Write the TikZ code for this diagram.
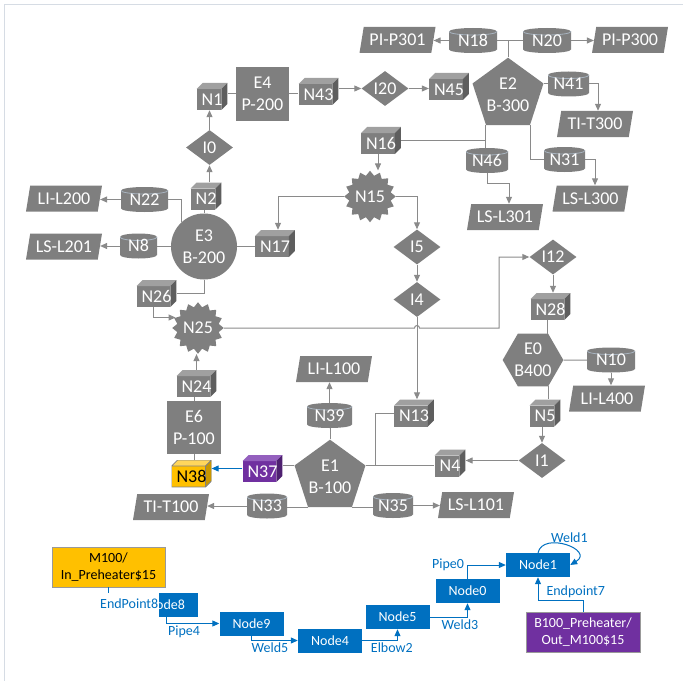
\documentclass[tikz,border=0pt]{standalone}
\usepackage{fontspec}
\setmainfont{Carlito}
\usetikzlibrary{shapes.geometric,arrows.meta,calc}
\definecolor{gfill}{HTML}{7F7F7F}
\definecolor{gtop}{HTML}{A0A0A0}
\definecolor{gside}{HTML}{5E5E5E}
\definecolor{gline}{HTML}{8A8A8A}
\definecolor{yfill}{HTML}{FFC000}
\definecolor{ytop}{HTML}{FFD65C}
\definecolor{yside}{HTML}{C99700}
\definecolor{pfill}{HTML}{7030A0}
\definecolor{ptop}{HTML}{9460BE}
\definecolor{pside}{HTML}{4E2070}
\definecolor{bblue}{HTML}{0070C0}
\definecolor{framec}{HTML}{D6DCE4}
\definecolor{rimc}{HTML}{A8B4C0}
\newcommand\gfont{\fontsize{18bp}{22bp}\selectfont}
\newcommand\bfnt{\fontsize{14bp}{17bp}\selectfont}
\newcommand\bx[1]{\raisebox{-3bp}{#1}\hspace{6bp}}
\tikzset{
 gtxt/.style={font=\gfont, text=white, text height=11.6bp, text depth=0bp},
 mkbox/.style n args={4}{rectangle, gtxt, minimum height=27bp, inner xsep=5bp, inner ysep=0bp,
   path picture={
     \path (path picture bounding box.south west) coordinate (pp1)
           (path picture bounding box.north east) coordinate (pp2);
     \fill[#1] let \p1=(pp1),\p2=(pp2) in (\x1,\y1) rectangle (\x2-6bp,\y2-6bp);
     \fill[#2] let \p1=(pp1),\p2=(pp2) in (\x1,\y2-6bp) -- (\x1+6bp,\y2) -- (\x2,\y2) -- (\x2-6bp,\y2-6bp) -- cycle;
     \fill[#3] let \p1=(pp1),\p2=(pp2) in (\x2-6bp,\y1) -- (\x2-6bp,\y2-6bp) -- (\x2,\y2) -- (\x2,\y1+6bp) -- cycle;
     #4
   }},
 gbox/.style={mkbox={gfill}{gtop}{gside}{}},
 pbox/.style={mkbox={pfill}{ptop}{pside}{}},
 ybox/.style={mkbox={yfill}{ytop}{yside}{\draw[gray, line width=0.8bp] let \p1=(pp1),\p2=(pp2) in (\x1,\y1) -- (\x2-6bp,\y1) -- (\x2,\y1+6bp) -- (\x2,\y2) -- (\x1+6bp,\y2) -- (\x1,\y2-6bp) -- cycle (\x1,\y2-6bp) -- (\x2-6bp,\y2-6bp) -- (\x2,\y2) (\x2-6bp,\y2-6bp) -- (\x2-6bp,\y1);}, text=black},
 cyl/.style={rectangle, gtxt, minimum height=25bp, inner xsep=5bp, inner ysep=0bp,
   path picture={
     \path (path picture bounding box.south west) coordinate (pp1)
           (path picture bounding box.north east) coordinate (pp2);
     \fill[gfill] let \p1=(pp1),\p2=(pp2) in
        (\x1,\y2-3.5bp) arc[start angle=180,end angle=0,x radius={0.5*\x2-0.5*\x1},y radius=3.5bp]
        -- (\x2,\y1+3.5bp) arc[start angle=0,end angle=-180,x radius={0.5*\x2-0.5*\x1},y radius=3.5bp] -- cycle;
     \draw[rimc, line width=0.8bp] let \p1=(pp1),\p2=(pp2) in
        (\x1,\y2-3.5bp) arc[start angle=180,end angle=360,x radius={0.5*\x2-0.5*\x1},y radius=3.5bp];
   }},
 gshape/.style={fill=gfill, inner sep=0pt, font=\gfont, text=white, align=center},
 pent/.style={gshape, regular polygon, regular polygon sides=5},
 hexa/.style={gshape, regular polygon, regular polygon sides=6, minimum size=60bp},
 circ/.style={gshape, circle, minimum size=66bp},
 rectE/.style={gshape, rectangle},
 diam/.style={diamond, fill=gfill, gtxt, minimum width=47bp, minimum height=35bp, inner sep=0pt, aspect=1.35},
 star16/.style={star, star points=16, star point ratio=1.22, fill=gfill, gtxt, inner sep=0pt},
 para/.style={trapezium, trapezium left angle=70, trapezium right angle=110, trapezium stretches body,
   fill=gfill, gtxt, minimum width=76bp, minimum height=26bp, inner xsep=1bp, inner ysep=0bp},
 gl/.style={draw=gline, line width=1bp},
 garr/.style={gl, -{Triangle[length=7bp,width=6bp]}},
 barr/.style={draw=bblue, line width=1bp, -{Triangle[length=7bp,width=6bp]}},
 bnode/.style={rectangle, fill=bblue, text=white, font=\bfnt, minimum width=64bp, minimum height=24bp, inner sep=0pt, text height=9.5bp, text depth=0bp},
 blabel/.style={text=bblue, font=\bfnt, inner sep=1bp},
 bigbox/.style={rectangle, draw=gray!80, line width=0.8bp, font=\bfnt, align=center, minimum width=113bp, minimum height=40bp, inner sep=0pt}
}
\begin{document}
\begin{tikzpicture}[x=1bp,y=-1bp]
\useasboundingbox (0,0) rectangle (683,681);
\draw[framec, line width=1bp] (4,681) -- (4,5) -- (683,5);
% top area
\node[para] (PIP301) at (397.5,40) {PI-P301};
\node[cyl, minimum width=48bp] (N18) at (473,40.5) {N18};
\node[cyl, minimum width=48bp] (N20) at (547,40.5) {N20};
\node[para] (PIP300) at (630,40) {PI-P300};
\node[pent, minimum size=72bp] (E2) at (508,95) {E2\\B-300};
\node[cyl, minimum width=41bp] (N41) at (568.5,84) {N41};
\node[para] (TIT300) at (595,124) {TI-T300};
\node[cyl, minimum width=41bp] (N31) at (564.5,159.5) {N31};
\node[para] (LSL300) at (590.5,198.5) {LS-L300};
\node[cyl, minimum width=42bp] (N46) at (487,160.5) {N46};
\node[para] (LSL301) at (505,217) {LS-L301};
\node[gbox] (N16) at (381,140.5) {\bx{N16}};
\node[star16, minimum size=46bp] (N15) at (370,196.5) {N15};
\node[gbox] (N45) at (449,86.5) {\bx{N45}};
\node[diam] (I20) at (385,88.5) {I20};
\node[gbox] (N43) at (318.5,91.5) {\bx{N43}};
\node[rectE, minimum width=53bp, minimum height=54bp] (E4) at (262.5,94) {E4\\P-200};
\node[gbox] (N1) at (212,96.5) {\bx{N1}};
\node[diam] (I0) at (209.5,147.5) {I0};
\node[gbox] (N2) at (206,196) {\bx{N2}};
\node[circ] (E3) at (204,246.5) {E3\\B-200};
\node[cyl, minimum width=47bp] (N22) at (144.5,199.5) {N22};
\node[para] (LIL200) at (64,198.5) {LI-L200};
\node[cyl, minimum width=37bp] (N8) at (138.5,246) {N8};
\node[para] (LSL201) at (64,246.5) {LS-L201};
\node[gbox] (N17) at (275,243.5) {\bx{N17}};
\node[gbox] (N26) at (156.5,293.5) {\bx{N26}};
\node[star16, minimum size=43bp] (N25) at (198,328) {N25};
\node[gbox] (N24) at (196.5,383.5) {\bx{N24}};
\node[rectE, minimum width=54bp, minimum height=53bp] (E6) at (194,427.5) {E6\\P-100};
\node[ybox] (N38) at (191.5,473.5) {\bx{N38}};
\node[pbox] (N37) at (262.5,468.5) {\bx{N37}};
\node[pent, minimum size=70bp] (E1) at (330,477) {E1\\B-100};
\node[cyl, minimum width=45bp] (N39) at (329.5,415.5) {N39};
\node[para] (LIL100) at (334,369) {LI-L100};
\node[cyl, minimum width=40bp] (N33) at (267,506) {N33};
\node[para] (TIT100) at (171,507) {TI-T100};
\node[cyl, minimum width=40bp] (N35) at (393,505.5) {N35};
\node[para] (LSL101) at (476,505) {LS-L101};
\node[gbox] (N13) at (414,413) {\bx{N13}};
\node[gbox] (N4) at (450,463) {\bx{N4}};
\node[diam] (I1) at (542,460.5) {I1};
\node[gbox] (N5) at (545,413) {\bx{N5}};
\node[hexa] (E0) at (533,360) {E0\\B400};
\node[cyl, minimum width=48bp] (N10) at (611,360) {N10};
\node[para] (LIL400) at (607,398.5) {LI-L400};
\node[gbox] (N28) at (550.5,306.5) {\bx{N28}};
\node[diam] (I12) at (553,257) {I12};
\node[diam] (I5) at (417,247) {I5};
\node[diam] (I4) at (417,299.5) {I4};
% blue area
\node[bigbox, fill=yfill, text=black] (M100) at (108.5,567) {M100/\\In\_Preheater\$15};
\node[bigbox, fill=pfill, text=white, minimum width=114bp] (B100) at (583,632) {B100\_Preheater/\\Out\_M100\$15};
\node[bnode] (Node8) at (166,605) {Node8};
\node[bnode] (Node9) at (251.5,623.5) {Node9};
\node[bnode] (Node4) at (330,640.5) {Node4};
\node[bnode] (Node5) at (397.5,617) {Node5};
\node[bnode] (Node0) at (467.5,591) {Node0};
\node[bnode] (Node1) at (538,565) {Node1};
% gray connectors
\draw[gl] (N18) -- (N20);
\draw[gl] (E2.corner 1) -- (E2.corner 1 |- N18.center);
\draw[garr] (N18.west) -- (N18.west -| PIP301.east);
\draw[garr] (N20.east) -- (N20.east -| PIP300.west);
\draw[gl] (N1.east |- E4.west) -- (E4.west);
\draw[gl] (E4.east) -- (E4.east -| N43.west);
\draw[garr] (N43.east |- I20.west) -- (I20.west);
\draw[garr] (I20.east) -- (I20.east -| N45.west);
\draw[gl] (E2.corner 5) -- (E2.corner 5 -| N41.west);
\draw[garr] (N41.east) -| ([xshift=3bp]TIT300.north);
\draw[gl] (E2.corner 4) |- (N31.west);
\draw[garr] (N31.east) -| ([xshift=4.5bp]LSL300.north);
\draw[gl] (E2.corner 3) -- (E2.corner 3 |- N46.north);
\draw[gl] (N16.east) -- (N16.east -| E2.corner 3);
\draw[garr] (N46.south) -- ++(0,10) -| ([xshift=4bp]LSL301.north);
\draw[garr] ([xshift=-3bp]N16.south) -- ([xshift=-3bp]N16.south |- N15.north);
\draw[garr] (N15.east) -| (I5.north);
\draw[garr] (N15.west) -| ([xshift=3bp]N17.north);
\draw[garr] (I5) -- (I4);
\draw[garr] (I4.south) -- (I4.south |- N13.north);
\draw[gl] (E3.east) -- (E3.east -| N17.west);
\draw[gl] (E3.north) -- (E3.north |- N2.south);
\draw[garr] (I0.south |- N2.north) -- (I0.south);
\draw[garr] (I0.north) -- (I0.north |- N1.south);
\draw[gl] (E3.133) |- (N22.east);
\draw[garr] (N22.west) -- (N22.west -| LIL200.east);
\draw[gl] (E3.west) -- (E3.west -| N8.east);
\draw[garr] (N8.west) -- (N8.west -| LSL201.east);
\draw[gl] (E3.south) |- (N26.east);
\draw[garr] ([xshift=-3bp]N26.south) |- (N25.155);
\draw[garr] (N24.north) -- (N24.north |- N25.south);
\draw[gl] (E6.north) -- (E6.north |- N24.south);
\draw[gl] (E6.south) -- (E6.south |- N38.north);
\draw[barr] (N37.west) -- (N37.west -| N38.east);
\draw[gl] (E1.corner 2) -- (E1.corner 2 -| N37.east);
\draw[gl] (E1.north) -- (E1.north |- N39.south);
\draw[garr] (N39.north) -- (N39.north |- LIL100.south);
\draw[gl] (E1.corner 3) -- (E1.corner 3 -| N33.east);
\draw[garr] (N33.west) -- (N33.west -| TIT100.east);
\draw[gl] (E1.corner 4) -- (E1.corner 4 -| N35.west);
\draw[garr] (N35.east) -- (N35.east -| LSL101.west);
\draw[gl] (E1.corner 5) -- (E1.corner 5 -| N4.west);
\draw[gl] (N13.west) -| ([xshift=10bp]E1.corner 5);
\draw[garr] (I1.west) -- (I1.west -| N4.east);
\draw[garr] ([xshift=-3bp]N5.south) -- ([xshift=-3bp]N5.south |- I1.north);
\draw[gl] ([xshift=15bp]E0.south) -- ([xshift=15bp]E0.south |- N5.north);
\draw[gl] ([xshift=-3bp]N28.south) -- ([xshift=-3bp]N28.south |- E0.north);
\draw[garr] (I12.south) -- (I12.south |- N28.north);
\draw[gl] (E0.east) -- (N10.west);
\draw[garr] (N10.south) -- (N10.south |- LIL400.north);
\coordinate (hop) at (I4.south |- N25.east);
\coordinate (t25) at (499,328);
\draw[garr] (N25.east) -- ([xshift=-2.5bp]hop) arc[start angle=180,end angle=0,radius=2.5bp] -- (t25) |- (I12.west);
% blue connectors
\draw[barr] (M100.south) |- (Node8.west) node[blabel, pos=0.91, fill=white, inner ysep=5.5bp, text height=10bp, text depth=3bp] {EndPoint8};
\draw[barr] (Node8.south) |- (Node9.west) node[blabel, pos=0.67, below=1bp] {Pipe4};
\draw[barr] (Node9.south) |- (Node4.west) node[blabel, pos=0.7, below=1bp] {Weld5};
\draw[barr] (Node4.east) -| (Node5.south) node[blabel, pos=0.42, below=1bp] {Elbow2};
\draw[barr] (Node5.east) -| (Node0.south) node[blabel, pos=0.4, below=1bp] {Weld3};
\draw[barr] (Node0.north) |- (Node1.west) node[blabel, pos=0.5, left=2bp] {Pipe0};
\draw[barr] (Node1.north) .. controls +(5,-22) and +(25,-15) .. (Node1.east) node[blabel, pos=0.5, above=1bp, xshift=4bp] {Weld1};
\draw[barr] (B100.north) -- ++(0,-11) -| node[blabel, pos=0.08, above=1bp] {Endpoint7} (Node1.south);
\end{tikzpicture}
\end{document}
